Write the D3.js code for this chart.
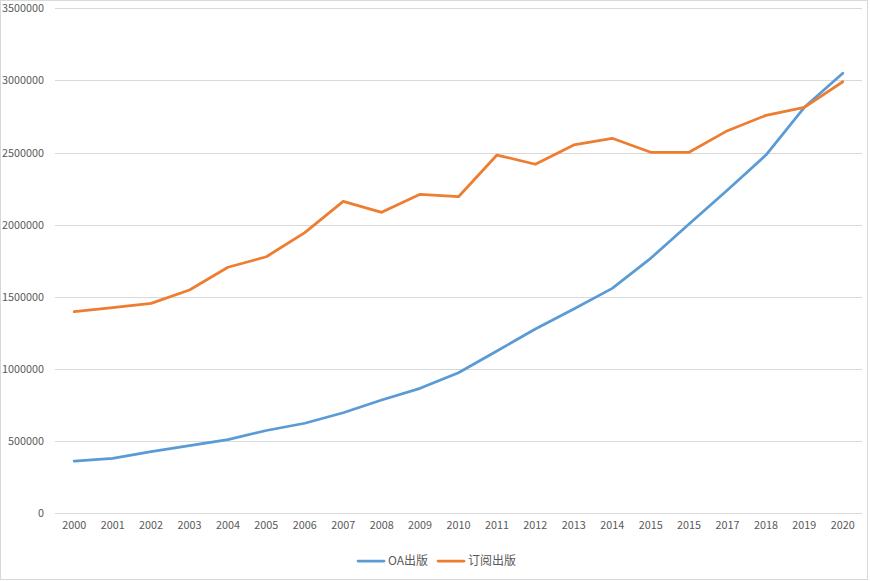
<!DOCTYPE html>
<html>
<head>
<meta charset="utf-8">
<script src="https://cdn.jsdelivr.net/npm/d3@7"></script>
<style>
  html, body { margin: 0; padding: 0; background: #fff; }
  svg { display: block; }
</style>
</head>
<body>
<svg id="chart" width="870" height="581"></svg>
<script>
const categories = ["2000","2001","2002","2003","2004","2005","2006","2007","2008","2009","2010","2011","2012","2013","2014","2015","2015","2017","2018","2019","2020"];
const oaValues = [362000, 381000, 427000, 469000, 511000, 574000, 624000, 697000, 785000, 866000, 974000, 1125000, 1277000, 1416000, 1559000, 1767000, 2005000, 2241000, 2483000, 2814000, 3050000];
const subValues = [1397000, 1426000, 1455000, 1548000, 1705000, 1778000, 1945000, 2162000, 2086000, 2211000, 2194000, 2483000, 2419000, 2553000, 2599000, 2502000, 2502000, 2652000, 2758000, 2814000, 2991000];
const yTicks = [0, 500000, 1000000, 1500000, 2000000, 2500000, 3000000, 3500000];
const seriesNames = ["OA出版", "订阅出版"];
const seriesColors = ["#5B9BD5", "#ED7D31"];

const font = "'Noto Sans CJK SC', 'Noto Sans', sans-serif";
const svg = d3.select("#chart");
const plot = { left: 55, right: 862, top: 8.3, bottom: 513.3 };

// chart border
svg.append("rect").attr("x", 0.5).attr("y", 0.5).attr("width", 867).attr("height", 579)
  .attr("fill", "#fff").attr("stroke", "#D9D9D9").attr("stroke-width", 1);

const idx = categories.map((d, i) => i);
const x = d3.scaleBand().domain(idx).range([plot.left, plot.right]).paddingInner(0).paddingOuter(0);
const y = d3.scaleLinear().domain([0, 3500000]).range([plot.bottom, plot.top]);

// gridlines
svg.append("g").selectAll("line").data(yTicks).join("line")
  .attr("x1", plot.left).attr("x2", plot.right)
  .attr("y1", d => Math.round(y(d)) + 0.5).attr("y2", d => Math.round(y(d)) + 0.5)
  .attr("stroke", "#D9D9D9").attr("stroke-width", 1);

// y axis labels
const yAxis = d3.axisLeft(y).tickValues(yTicks).tickSize(0).tickPadding(0).tickFormat(d3.format("d"));
const yg = svg.append("g").attr("transform", `translate(44,0)`).call(yAxis);
yg.select(".domain").remove();
yg.selectAll("text").attr("font-family", font).attr("font-size", "10.8px").attr("fill", "#595959");

// x axis labels
const xAxis = d3.axisBottom(x).tickSize(0).tickPadding(0).tickFormat(i => categories[i]);
const xg = svg.append("g").attr("transform", `translate(0,${plot.bottom + 8})`).call(xAxis);
xg.select(".domain").remove();
xg.selectAll("text").attr("font-family", font).attr("font-size", "10.8px").attr("fill", "#595959");

// lines
const line = d3.line().x((d, i) => x(i) + x.bandwidth() / 2).y(d => y(d));
[oaValues, subValues].forEach((vals, k) => {
  svg.append("path").datum(vals).attr("d", line)
    .attr("fill", "none").attr("stroke", seriesColors[k]).attr("stroke-width", 2.75)
    .attr("stroke-linejoin", "round").attr("stroke-linecap", "round");
});

// legend
const legend = svg.append("g").attr("transform", "translate(0,561)");
const legendX = [358, 438];
seriesNames.forEach((name, k) => {
  const g = legend.append("g").attr("transform", `translate(${legendX[k]},0)`);
  g.append("line").attr("x1", 0).attr("x2", 26).attr("y1", 0).attr("y2", 0)
    .attr("stroke", seriesColors[k]).attr("stroke-width", 2.75).attr("stroke-linecap", "round");
  g.append("text").attr("x", 30).attr("y", 0).attr("dy", "0.36em")
    .attr("font-family", font).attr("font-size", "12px").attr("fill", "#595959").text(name);
});
</script>
</body>
</html>
